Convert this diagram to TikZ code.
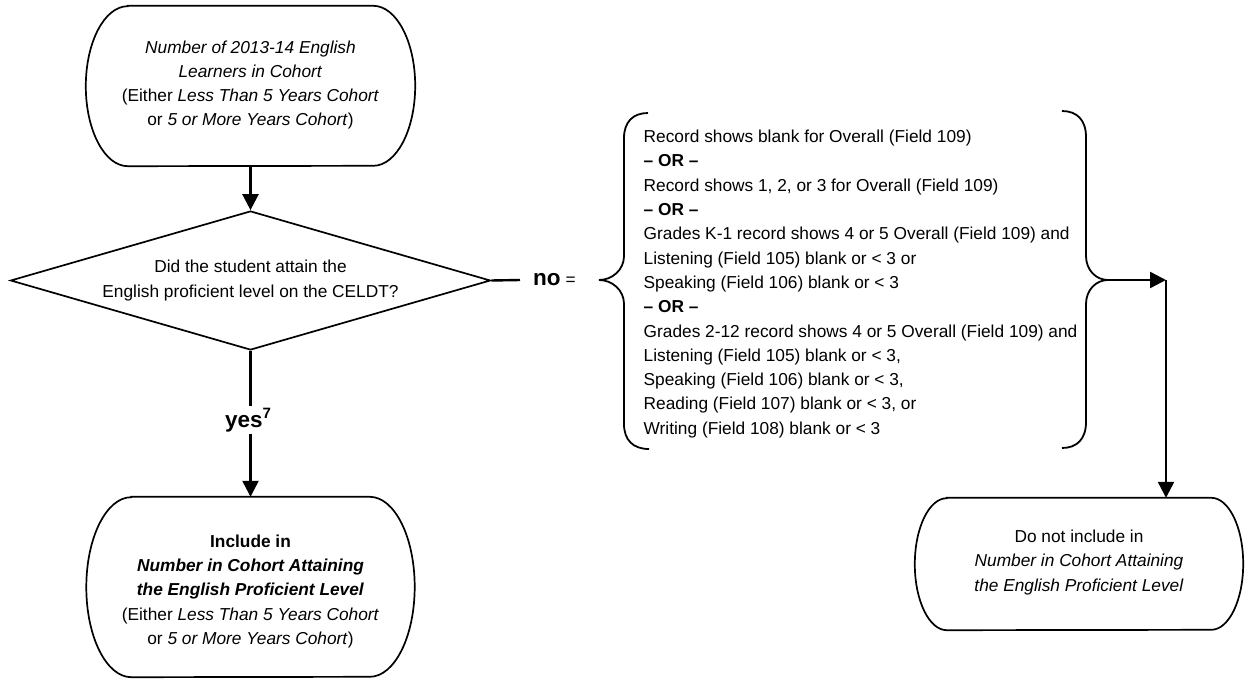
\documentclass[tikz,border=0pt]{standalone}
\usepackage{fontspec}
\setmainfont{Liberation Sans}
\usetikzlibrary{shapes.geometric,arrows.meta}
\newcommand\termshape[3]{%
  \draw[boxline] ([xshift=#2pt]#1.north west) -- ([xshift=-#2pt]#1.north east)
    arc[start angle=90,end angle=-90,x radius=#2pt,y radius=#3pt]
    -- ([xshift=#2pt]#1.south west)
    arc[start angle=270,end angle=90,x radius=#2pt,y radius=#3pt] -- cycle;}
\begin{document}
\begin{tikzpicture}[x=1pt,y=-1pt,
  txt/.style={font=\fontsize{17.3}{24.3}\selectfont, align=center, inner sep=0pt},
  shapebox/.style={draw=none, inner sep=0pt},
  boxline/.style={line width=1.7pt},
  conn/.style={line width=2.4pt},
  arr/.style={conn, -{Triangle[length=16pt,width=16pt]}},
  bracel/.style={line width=1.8pt}
]
\useasboundingbox (0,0) rectangle (1245,679);

% terminator boxes
\node[shapebox, minimum width=329pt, minimum height=160pt] (start) at (250.5,86) {};
\termshape{start}{42}{80}
\node[txt] (startt) at (250.5,85) {\textit{Number of 2013-14 English}\\ \textit{Learners in Cohort}\\ (Either \textit{Less Than 5 Years Cohort}\\ or \textit{5 or More Years Cohort})};

\node[shapebox, minimum width=328pt, minimum height=180pt] (inc) at (250.5,587) {};
\termshape{inc}{45}{90}
\node[txt] (inct) at (250.5,591.5) {\textbf{Include in}\\ \textbf{\textit{Number in Cohort Attaining}}\\ \textbf{\textit{the English Proficient Level}}\\ (Either \textit{Less Than 5 Years Cohort}\\ or \textit{5 or More Years Cohort})};

\node[shapebox, minimum width=328pt, minimum height=132pt] (dni) at (1079,564) {};
\termshape{dni}{32}{66}
\node[txt] (dnit) at (1079,562.5) {Do not include in\\ \textit{Number in Cohort Attaining}\\ \textit{the English Proficient Level}};

% decision
\node[txt, diamond, draw, boxline, aspect=3.45, minimum width=480pt, minimum height=139pt] (q) at (250.5,280.5) {Did the student attain the\\ English proficient level on the CELDT?};

% labels
\node[inner xsep=13pt, inner ysep=0pt, anchor=west] (no) at (520,280) {{\fontsize{22.5}{22.5}\selectfont\bfseries no}{\fontsize{17.3}{20}\selectfont{} =}};
\node[inner xsep=0pt, inner ysep=2pt] (yes) at (248,420) {\fontsize{22.5}{22.5}\selectfont\bfseries yes\raisebox{8.5pt}{\fontsize{15}{15}\selectfont\bfseries 7}};

% criteria
\node[font=\fontsize{17.3}{24.3}\selectfont, align=left, inner sep=0pt, anchor=west] (crit) at (643.5,284) {Record shows blank for Overall (Field 109)\\
\textbf{– OR –}\\
Record shows 1, 2, or 3 for Overall (Field 109)\\
\textbf{– OR –}\\
Grades K-1 record shows 4 or 5 Overall (Field 109) and\\
Listening (Field 105) blank or < 3 or\\
Speaking (Field 106) blank or < 3\\
\textbf{– OR –}\\
Grades 2-12 record shows 4 or 5 Overall (Field 109) and\\
Listening (Field 105) blank or < 3,\\
Speaking (Field 106) blank or < 3,\\
Reading (Field 107) blank or < 3, or\\
Writing (Field 108) blank or < 3};

% braces
\draw[bracel] (648,113) .. controls (633,113) and (624,122) .. (624,138) -- (624,256)
  .. controls (624,270) and (612,280) .. (599,280)
  .. controls (612,280) and (624,290) .. (624,304) -- (624,424)
  .. controls (624,440) and (633,449) .. (649,449);
\draw[bracel] (1062,111) .. controls (1077,111) and (1086,120) .. (1086,137) -- (1086,256)
  .. controls (1086,270) and (1096,280) .. (1108,280)
  .. controls (1096,280) and (1086,290) .. (1086,304) -- (1086,422)
  .. controls (1086,439) and (1077,448) .. (1062,448);
\coordinate (rtip) at (1108,280);
\coordinate (corner) at (1166,280);

% connectors
\draw[arr] (start.south) -- (q.north);
\draw[conn] (q.east) -- (no.west);
\draw[conn] (q.south) -- (q.south |- yes.north);
\draw[arr] (q.south |- yes.south) -- (inc.north);
\draw[arr] (rtip) -- (corner);
\draw[arr] (corner) -- (corner |- dni.north);
\end{tikzpicture}
\end{document}
